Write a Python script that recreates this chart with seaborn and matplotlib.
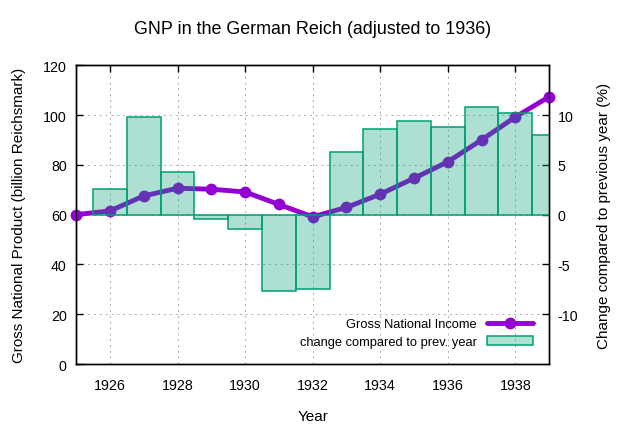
import numpy as np
import pandas as pd
import matplotlib
matplotlib.use("Agg")
import matplotlib.pyplot as plt
import seaborn as sns
from matplotlib.lines import Line2D
from matplotlib.patches import Patch

# data
years = [1925, 1926, 1927, 1928, 1929, 1930, 1931, 1932, 1933, 1934, 1935, 1936, 1937, 1938, 1939]
gnp = [60.0, 61.5, 67.5, 70.6, 70.2, 69.1, 64.1, 59.1, 62.9, 68.2, 74.6, 81.2, 90.0, 99.2, 107.3]
change_years = [1926, 1927, 1928, 1929, 1930, 1931, 1932, 1933, 1934, 1935, 1936, 1937, 1938, 1939]
change = [2.6, 9.8, 4.3, -0.4, -1.4, -7.7, -7.5, 6.3, 8.6, 9.4, 8.8, 10.8, 10.2, 8.0]
x_ticks = [1926, 1928, 1930, 1932, 1934, 1936, 1938]
left_ticks = [0, 20, 40, 60, 80, 100, 120]
right_ticks = [-10, -5, 0, 5, 10]

df_gnp = pd.DataFrame({"Year": years, "GNP": gnp})
df_chg = pd.DataFrame({"Year": change_years, "Change": change})

sns.set_style("white")
plt.rcParams["font.family"] = ["Liberation Sans", "DejaVu Sans"]
plt.rcParams["font.size"] = 10.3
plt.rcParams["axes.unicode_minus"] = False
plt.rcParams["text.color"] = "black"
plt.rcParams["axes.labelcolor"] = "black"
plt.rcParams["xtick.direction"] = "in"
plt.rcParams["ytick.direction"] = "in"
plt.rcParams["xtick.top"] = True

line_col = "#9400d3"
bar_edge = "#009e73"
bar_face = (0.0, 0.62, 0.45, 0.32)

fig = plt.figure(figsize=(6.4, 4.27), dpi=100)
ax = fig.add_axes([0.119, 0.145, 0.739, 0.70])

sns.lineplot(data=df_gnp, x="Year", y="GNP", ax=ax, color=line_col, linewidth=3.5,
             marker="o", markersize=8.5, markeredgewidth=0, clip_on=False, zorder=3)

ax2 = ax.twinx()
sns.barplot(data=df_chg, x="Year", y="Change", ax=ax2, native_scale=True, width=1.0,
            color=bar_edge, saturation=1, edgecolor=bar_edge, linewidth=1.1)
for p in ax2.patches:
    p.set_facecolor(bar_face)

ax.set_xlim(1925, 1939)
ax.set_ylim(0, 120)
ax2.set_xlim(1925, 1939)
ax2.set_ylim(-15, 15)
ax.set_xticks(x_ticks)
ax.set_yticks(left_ticks)
ax2.set_yticks(right_ticks)

ax.grid(True, color="#aaaaaa", linestyle=(0, (2, 4)), linewidth=0.7)

for a in (ax, ax2):
    for s in a.spines.values():
        s.set_linewidth(1.0)
        s.set_color("black")
ax.tick_params(axis="both", length=5, width=1, colors="black")
ax.tick_params(axis="y", pad=6.7)
ax.tick_params(axis="x", pad=10)
ax2.tick_params(axis="y", length=5, width=1, colors="black", pad=6)

ax.set_xlabel("Year", labelpad=12, fontsize=11)
ax.set_ylabel("Gross National Product (billion Reichsmark)", labelpad=12, fontsize=11)
ax2.set_ylabel("Change compared to previous year (%)", labelpad=13.5, fontsize=11)
ax.set_title("GNP in the German Reich (adjusted to 1936)", pad=23, fontsize=12.9)

handles = [Line2D([], [], color=line_col, linewidth=3.5, marker="o", markersize=8.5, markeredgewidth=0),
           Patch(facecolor=bar_face, edgecolor=bar_edge, linewidth=1.1)]
labels = ["Gross National Income", "change compared to prev. year"]
ax2.legend(handles, labels, loc="lower right", frameon=False, markerfirst=False,
           handlelength=3.55, fontsize=9.3, borderaxespad=0.84, labelspacing=0.45,
           bbox_to_anchor=(1.0, 0.0))

fig.savefig("out.png", dpi=100)
